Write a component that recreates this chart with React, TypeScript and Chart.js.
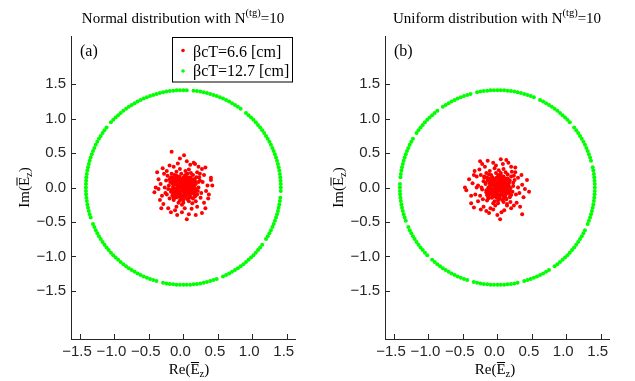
import React, { useEffect, useRef } from "react";
import { Chart, registerables } from "chart.js";

Chart.register(...registerables);

// ---------- data ----------
const xTicks = [-1.5, -1, -0.5, 0, 0.5, 1, 1.5];
const yTicks = [-1.5, -1, -0.5, 0, 0.5, 1, 1.5];
const xRange = [-1.63, 1.62];
const yRange = [-2.2, 2.2];

const legendLabels = ["βcT=6.6 [cm]", "βcT=12.7 [cm]"];
const titleMain = ["Normal distribution with N", "Uniform distribution with N"];
const titleSup = "(tg)";
const titleSuffix = "=10";
const panelLabels = ["(a)", "(b)"];

// green points: phase angles (degrees) on the ring of radius ringRadius
const ringRadius = 1.414;
const ringAnglesA = [
  0, 2, 4, 6, 8, 10, 12, 14, 16, 18, 20, 22, 24, 26, 28, 30, 32, 34, 36, 38, 40, 42, 44, 46, 48, 50, 54, 56,
  58, 60, 62, 64, 66, 68, 70, 72, 74, 76, 78, 80, 82, 84, 88, 90, 92, 94, 96, 98, 100, 102, 104, 106, 108,
  110, 112, 114, 116, 118, 120, 122, 124, 126, 128, 130, 132, 134, 136, 138, 142, 144, 146, 148, 150, 152,
  154, 156, 158, 160, 162, 164, 166, 168, 170, 172, 174, 176, 178, 180, 182, 184, 186, 188, 190, 192, 194,
  196, 198, 202, 204, 206, 208, 210, 212, 214, 216, 218, 220, 222, 224, 226, 228, 230, 232, 234, 236, 238,
  240, 242, 244, 246, 248, 250, 252, 254, 258, 260, 262, 264, 266, 268, 270, 272, 274, 276, 278, 280, 282,
  284, 286, 288, 290, 294, 296, 298, 300, 302, 304, 306, 308, 310, 312, 314, 316, 318, 320, 322, 324, 328,
  330, 332, 334, 336, 338, 340, 342, 344, 346, 348, 350, 352, 354, 358,
];
const ringAnglesB = [
  0, 2, 4, 6, 8, 10, 12, 16, 18, 20, 22, 24, 26, 28, 30, 32, 34, 36, 38, 42, 44, 46, 48, 50, 52, 54, 56, 58,
  60, 62, 64, 68, 70, 72, 74, 76, 78, 80, 82, 84, 86, 88, 90, 92, 94, 96, 98, 100, 102, 106, 108, 110, 112,
  114, 116, 118, 120, 122, 124, 128, 130, 132, 134, 136, 138, 140, 142, 144, 146, 150, 152, 154, 156, 158,
  160, 162, 164, 166, 168, 170, 172, 174, 178, 180, 182, 184, 186, 188, 190, 192, 194, 196, 198, 200, 204,
  206, 208, 210, 212, 214, 216, 218, 220, 222, 224, 228, 230, 232, 234, 236, 238, 240, 242, 244, 246, 248,
  250, 252, 256, 258, 260, 262, 264, 266, 268, 270, 272, 274, 276, 278, 280, 282, 286, 288, 290, 292, 294,
  296, 298, 300, 302, 306, 308, 310, 312, 314, 316, 318, 320, 322, 324, 326, 328, 330, 332, 334, 338, 340,
  342, 344, 346, 348, 350, 352, 354, 356, 358,
];

// red points (Re, Im)
const redA: [number, number][] = [
  [-0.17, 0.52], [0.01, 0.47], [-0.05, 0.42], [-0.38, 0.22], [0.27, 0.27], [0.32, 0.29], [-0.42, -0.07],
  [0.4, 0.14], [0.4, 0.11], [0.37, -0.1], [-0.09, -0.4], [0.05, -0.46], [0.27, -0.37], [0.08, -0.39],
  [-0.34, -0.18], [0.17, 0.34], [-0.3, 0.28], [-0.28, 0.2], [-0.33, 0.05], [-0.36, -0.02], [-0.31, -0.12],
  [-0.29, -0.24], [-0.22, -0.3], [-0.12, -0.33], [-0.02, -0.36], [0.12, -0.31], [0.2, -0.28], [0.3, -0.22],
  [0.33, -0.05], [0.35, 0.03], [0.3, 0.18], [0.22, 0.3], [0.1, 0.33], [-0.08, 0.35], [-0.2, 0.32],
  [-0.25, 0.1], [0.25, -0.15], [-0.26, -0.08], [0.28, 0.08], [0.15, 0.36], [-0.14, 0.3], [0.05, 0.38],
  [-0.36, 0.12], [0.36, -0.16], [-0.18, -0.36], [0.18, -0.4], [0.32, -0.3], [-0.4, 0.0], [0.42, 0.03],
  [0.24, 0.2], [-0.24, 0.24], [-0.1, -0.28], [0.02, -0.3], [-0.32, -0.3],
  [0.0, 0.0], [0.05, 0.02], [-0.04, 0.06], [0.08, -0.05], [-0.07, -0.03], [0.12, 0.08], [-0.11, 0.1],
  [0.03, -0.1], [-0.02, 0.13], [0.15, -0.02], [-0.15, 0.01], [0.1, 0.15], [-0.09, -0.14], [0.18, 0.05],
  [-0.18, -0.06], [0.06, 0.2], [-0.05, -0.19], [0.2, -0.1], [-0.2, 0.12], [0.14, -0.16], [-0.13, 0.18],
  [0.01, 0.07], [0.07, 0.11], [-0.03, -0.05], [0.09, 0.0], [-0.1, 0.04], [0.04, -0.15], [-0.06, 0.16],
  [0.16, 0.12], [-0.16, -0.12], [0.11, -0.09], [-0.12, -0.08], [0.02, 0.17], [0.22, 0.0], [-0.21, 0.03],
  [0.0, -0.22], [0.13, 0.03], [-0.08, 0.09], [0.05, -0.07], [-0.01, 0.03], [0.19, 0.15], [-0.17, 0.2],
  [0.08, -0.2], [-0.14, -0.18], [0.21, -0.05], [-0.22, -0.02], [0.03, 0.24], [-0.02, -0.25], [0.17, -0.13],
  [-0.19, 0.08], [0.11, 0.21], [-0.07, -0.22], [0.24, 0.1], [-0.24, -0.1], [0.06, 0.05], [-0.04, -0.1],
  [0.14, 0.18], [-0.11, 0.14], [0.09, -0.12], [-0.13, -0.03], [0.0, 0.11], [0.12, -0.01], [-0.06, 0.0],
  [0.03, 0.03], [-0.01, -0.02], [0.07, -0.02], [0.16, 0.02], [-0.16, 0.06], [0.04, 0.14], [-0.09, -0.07],
  [0.1, 0.06], [0.18, -0.2], [-0.03, 0.2], [0.23, 0.15], [-0.2, -0.16], [0.02, -0.13], [0.13, -0.23],
  [-0.1, 0.23], [0.2, 0.22], [-0.23, 0.17], [0.08, 0.26], [-0.05, 0.27], [0.26, -0.08], [-0.27, 0.0],
  [0.0, -0.18], [0.15, 0.09], [-0.08, 0.05], [0.05, 0.09], [-0.12, -0.15], [0.09, 0.04], [0.01, -0.06],
  [-0.03, 0.09], [0.11, -0.05], [-0.15, -0.08], [0.06, -0.17], [0.17, -0.06], [-0.18, 0.15], [0.22, 0.08],
  [0.04, 0.19], [-0.07, 0.12],
  [0.02, 0.05], [-0.03, 0.02], [0.06, -0.01], [-0.05, -0.06], [0.09, 0.09], [-0.08, 0.02], [0.04, -0.04],
  [-0.02, 0.09], [0.12, 0.04], [-0.12, 0.05], [0.07, 0.14], [-0.06, -0.12], [0.14, -0.08], [-0.14, -0.01],
  [0.01, -0.09], [0.1, -0.02], [-0.09, 0.12], [0.05, 0.12], [-0.04, -0.14], [0.13, 0.12], [-0.11, -0.11],
  [0.16, -0.1], [-0.15, 0.1], [0.03, 0.1], [-0.07, 0.07], [0.08, 0.03], [0.0, -0.04], [-0.01, 0.05],
  [0.11, -0.14], [-0.02, -0.16], [0.15, 0.05], [-0.17, -0.03], [0.07, -0.1], [-0.1, -0.01], [0.03, 0.16],
  [0.09, -0.07], [-0.13, 0.08], [0.12, 0.11], [-0.05, 0.1], [0.04, -0.02], [-0.08, -0.1], [0.17, 0.09],
  [-0.16, 0.14], [0.02, -0.12], [0.06, 0.07], [-0.03, -0.12], [0.1, 0.12], [-0.12, -0.05], [0.14, 0.0],
  [-0.06, 0.03], [0.0, 0.14], [0.08, -0.15], [-0.1, 0.17], [0.18, -0.02], [-0.14, -0.15], [0.05, 0.04],
  [-0.02, 0.0], [0.01, 0.12], [0.13, -0.05], [-0.09, -0.04],
];
const redB: [number, number][] = [
  [0.05, 0.41], [0.13, 0.4], [-0.25, 0.38], [-0.14, 0.39], [-0.47, 0.0], [-0.45, -0.04], [0.46, -0.06],
  [0.43, 0.11], [0.36, -0.39], [0.04, -0.46], [0.0, -0.4], [-0.12, -0.37], [-0.38, -0.23], [-0.34, -0.29],
  [0.26, 0.29], [0.35, 0.18], [-0.41, 0.12], [-0.33, 0.24], [-0.3, 0.16], [-0.36, 0.06], [-0.32, -0.1],
  [-0.28, -0.2], [-0.2, -0.28], [-0.06, -0.32], [0.1, -0.33], [0.2, -0.3], [0.28, -0.22], [0.32, -0.08],
  [0.36, 0.04], [0.3, 0.14], [0.2, 0.3], [0.08, 0.34], [-0.06, 0.36], [-0.18, 0.3], [-0.26, 0.26],
  [0.24, -0.26], [-0.38, -0.12], [0.38, -0.14], [-0.22, 0.34], [0.16, 0.36], [-0.3, 0.0], [0.3, 0.0],
  [-0.1, -0.3], [0.14, -0.26], [0.4, -0.02], [-0.16, -0.34], [0.26, 0.22], [-0.34, 0.18], [0.06, -0.36],
  [-0.02, 0.32], [0.33, -0.28], [-0.24, -0.32],
  [0.02, 0.01], [-0.05, 0.04], [0.07, -0.03], [-0.03, -0.07], [0.1, 0.06], [-0.09, 0.09], [0.04, -0.12],
  [-0.01, 0.14], [0.14, -0.04], [-0.13, -0.02], [0.09, 0.16], [-0.08, -0.15], [0.17, 0.07], [-0.17, 0.05],
  [0.05, 0.21], [-0.04, -0.2], [0.2, -0.11], [-0.19, 0.14], [0.13, -0.17], [-0.12, 0.19], [0.0, 0.06],
  [0.06, 0.1], [-0.02, -0.03], [0.11, 0.01], [-0.11, 0.02], [0.03, -0.16], [-0.07, 0.15], [0.15, 0.13],
  [-0.15, -0.11], [0.12, -0.1], [-0.1, -0.09], [0.01, 0.18], [0.23, 0.02], [-0.22, -0.03], [0.01, -0.23],
  [0.14, 0.04], [-0.07, 0.07], [0.06, -0.08], [0.0, 0.02], [0.2, 0.16], [-0.16, 0.21], [0.09, -0.21],
  [-0.15, -0.19], [0.22, -0.06], [-0.23, 0.0], [0.02, 0.25], [-0.03, -0.26], [0.18, -0.14], [-0.2, 0.09],
  [0.12, 0.22], [-0.06, -0.23], [0.25, 0.11], [-0.25, -0.12], [0.07, 0.04], [-0.05, -0.11], [0.15, 0.19],
  [-0.1, 0.13], [0.1, -0.13], [-0.14, -0.04], [0.01, 0.1], [0.13, -0.02], [-0.05, -0.01], [0.04, 0.02],
  [0.08, -0.01], [0.17, 0.01], [-0.17, 0.07], [0.05, 0.15], [-0.08, -0.06], [0.11, 0.07], [0.19, -0.21],
  [-0.02, 0.21], [0.24, 0.17], [-0.21, -0.17], [0.03, -0.14], [0.14, -0.24], [-0.11, 0.24], [0.21, 0.23],
  [-0.24, 0.18], [0.09, 0.27], [-0.04, 0.28], [0.27, -0.1], [-0.28, 0.03], [0.01, -0.19], [0.16, 0.1],
  [-0.09, 0.03], [0.04, 0.08], [-0.13, -0.14], [0.1, 0.03], [0.02, -0.05], [-0.04, 0.11], [0.12, -0.06],
  [-0.16, -0.07], [0.07, -0.18], [0.18, -0.05], [-0.19, 0.16], [0.23, 0.07], [0.05, 0.18], [-0.06, 0.13],
  [0.08, 0.12], [-0.01, -0.09],
  [0.03, 0.04], [-0.02, 0.01], [0.07, 0.0], [-0.06, -0.05], [0.08, 0.1], [-0.09, 0.03], [0.05, -0.05],
  [-0.03, 0.08], [0.13, 0.05], [-0.11, 0.06], [0.06, 0.13], [-0.07, -0.11], [0.15, -0.07], [-0.13, 0.0],
  [0.0, -0.1], [0.11, -0.03], [-0.1, 0.11], [0.04, 0.11], [-0.05, -0.13], [0.12, 0.13], [-0.12, -0.1],
  [0.17, -0.09], [-0.14, 0.11], [0.02, 0.11], [-0.06, 0.08], [0.09, 0.02], [0.01, -0.03], [-0.02, 0.06],
  [0.12, -0.15], [-0.01, -0.15], [0.16, 0.04], [-0.16, -0.04], [0.08, -0.11], [-0.11, 0.0], [0.04, 0.17],
  [0.1, -0.06], [-0.12, 0.09], [0.13, 0.1], [-0.04, 0.09], [0.05, -0.01], [-0.09, -0.09], [0.18, 0.1],
  [-0.15, 0.15], [0.03, -0.11], [0.07, 0.06], [-0.02, -0.11], [0.11, 0.11], [-0.13, -0.06], [0.15, 0.01],
  [-0.07, 0.04], [0.01, 0.15], [0.09, -0.16], [-0.09, 0.18], [0.19, -0.01], [-0.13, -0.16], [0.06, 0.03],
  [-0.01, 0.01], [0.02, 0.13], [0.14, -0.04], [-0.08, -0.03],
];

// ---------- styles ----------
const RED = "#ff0000";
const GREEN = "#00ff00";
const AXIS_COLOR = "#262626";
const SERIF = '"Liberation Serif", "Times New Roman", serif';
const SANS = '"Liberation Sans", Arial, sans-serif';
const CANVAS_W = 314;
const CANVAS_H = 381;

const fmtTick = (v: number) => {
  const s = Number(v).toFixed(1);
  return s.startsWith("-") ? "\u2212" + s.slice(1) : s;
};

// draws "<prefix>(Ē_z)" with overline and subscript, centred on cx at baseline by
function drawELabel(ctx: CanvasRenderingContext2D, prefix: string, cx: number, by: number) {
  const main = `15px ${SERIF}`;
  const sub = `10.5px ${SERIF}`;
  ctx.font = main;
  const wPre = ctx.measureText(prefix + "(").width;
  const wE = ctx.measureText("E").width;
  const wClose = ctx.measureText(")").width;
  ctx.font = sub;
  const wZ = ctx.measureText("z").width;
  const total = wPre + wE + wZ + wClose;
  let x = cx - total / 2;
  ctx.textAlign = "left";
  ctx.textBaseline = "alphabetic";
  ctx.font = main;
  ctx.fillText(prefix + "(", x, by);
  x += wPre;
  ctx.fillText("E", x, by);
  ctx.fillRect(x + 0.5, by - 12, wE - 1, 1);
  x += wE;
  ctx.font = sub;
  ctx.fillText("z", x, by + 3);
  x += wZ;
  ctx.font = main;
  ctx.fillText(")", x, by);
}

const decorPlugin = {
  id: "decor",
  afterDraw(chart: any, _args: any, opts: any) {
    const ctx: CanvasRenderingContext2D = chart.ctx;
    const { left, right, bottom } = chart.chartArea;
    const xs = chart.scales.x;
    const ys = chart.scales.y;
    ctx.save();
    // inward tick marks
    ctx.strokeStyle = AXIS_COLOR;
    ctx.lineWidth = 1;
    ctx.beginPath();
    xTicks.forEach((v) => {
      const px = Math.round(xs.getPixelForValue(v)) + 0.5;
      ctx.moveTo(px, bottom);
      ctx.lineTo(px, bottom - 5);
    });
    yTicks.forEach((v) => {
      const py = Math.round(ys.getPixelForValue(v)) + 0.5;
      ctx.moveTo(left, py);
      ctx.lineTo(left + 5, py);
    });
    ctx.stroke();

    ctx.fillStyle = "#000";
    // title with superscript
    const cx = (left + right) / 2;
    ctx.font = `15px ${SERIF}`;
    const w1 = ctx.measureText(opts.title).width;
    const w3 = ctx.measureText(titleSuffix).width;
    ctx.font = `10.5px ${SERIF}`;
    const w2 = ctx.measureText(titleSup).width;
    let tx = cx - (w1 + w2 + w3) / 2;
    ctx.textAlign = "left";
    ctx.textBaseline = "alphabetic";
    ctx.font = `15px ${SERIF}`;
    ctx.fillText(opts.title, tx, 23);
    tx += w1;
    ctx.font = `10.5px ${SERIF}`;
    ctx.fillText(titleSup, tx, 16);
    tx += w2;
    ctx.font = `15px ${SERIF}`;
    ctx.fillText(titleSuffix, tx, 23);

    // panel label
    ctx.font = `16px ${SERIF}`;
    ctx.fillText(opts.panel, left + 9, 56);

    // axis labels
    drawELabel(ctx, "Re", opts.xLabelCx, 374);
    ctx.save();
    ctx.translate(28.5, 187.5);
    ctx.rotate(-Math.PI / 2);
    drawELabel(ctx, "Im", 0, 0);
    ctx.restore();

    // legend
    if (opts.legend) {
      const bx = 172.5, by = 37.5, bw = 120, bh = 44.5;
      ctx.fillStyle = "#fff";
      ctx.fillRect(bx, by, bw, bh);
      ctx.strokeStyle = "#000";
      ctx.lineWidth = 1;
      ctx.strokeRect(bx, by, bw, bh);
      const rows = [
        { color: RED, text: legendLabels[0], dy: 50.5, ty: 56.5 },
        { color: GREEN, text: legendLabels[1], dy: 71, ty: 76 },
      ];
      ctx.font = `16px ${SERIF}`;
      rows.forEach((r) => {
        ctx.fillStyle = r.color;
        ctx.beginPath();
        ctx.arc(183, r.dy, 1.8, 0, Math.PI * 2);
        ctx.fill();
        ctx.fillStyle = "#000";
        ctx.fillText(r.text, 193, r.ty);
      });
    }
    ctx.restore();
  },
};

function makeConfig(red: [number, number][], ring: number[], idx: number, xLabelCx: number): any {
  return {
    type: "scatter",
    data: {
      datasets: [
        {
          label: legendLabels[0],
          data: red.map(([x, y]) => ({ x, y })),
          pointRadius: 2,
          pointBorderWidth: 0,
          pointBackgroundColor: RED,
          backgroundColor: RED,
          borderColor: RED,
        },
        {
          label: legendLabels[1],
          data: ring.map((a) => ({
            x: ringRadius * Math.cos((a * Math.PI) / 180),
            y: ringRadius * Math.sin((a * Math.PI) / 180),
          })),
          pointRadius: 2,
          pointBorderWidth: 0,
          pointBackgroundColor: GREEN,
          backgroundColor: GREEN,
          borderColor: GREEN,
        },
      ],
    },
    options: {
      responsive: false,
      animation: false,
      events: [],
      layout: { padding: { top: 36, right: CANVAS_W - 295, bottom: 0, left: 0 } },
      plugins: {
        legend: { display: false },
        tooltip: { enabled: false },
        title: { display: false },
        decor: {
          title: titleMain[idx],
          panel: panelLabels[idx],
          legend: idx === 0,
          xLabelCx,
        },
      },
      scales: {
        x: {
          type: "linear",
          min: xRange[0],
          max: xRange[1],
          afterBuildTicks: (s: any) => {
            s.ticks = xTicks.map((v) => ({ value: v }));
          },
          afterFit: (s: any) => {
            s.height = CANVAS_H - 339;
          },
          grid: { display: false, drawTicks: false },
          border: { display: true, color: AXIS_COLOR, width: 1 },
          ticks: {
            autoSkip: false,
            maxRotation: 0,
            padding: 4,
            labelOffset: -3,
            color: AXIS_COLOR,
            font: { family: SANS, size: 15 },
            callback: (v: any) => fmtTick(v),
          },
        },
        y: {
          type: "linear",
          min: yRange[0],
          max: yRange[1],
          afterBuildTicks: (s: any) => {
            s.ticks = yTicks.map((v) => ({ value: v }));
          },
          afterFit: (s: any) => {
            s.width = 71;
          },
          grid: { display: false, drawTicks: false },
          border: { display: true, color: AXIS_COLOR, width: 1 },
          ticks: {
            autoSkip: false,
            padding: 5,
            color: AXIS_COLOR,
            font: { family: SANS, size: 15 },
            callback: (v: any) => fmtTick(v),
          },
        },
      },
    },
    plugins: [decorPlugin],
  };
}

function Panel({ red, ring, idx, left, xLabelCx }: any) {
  const ref = useRef<HTMLCanvasElement>(null);
  useEffect(() => {
    if (!ref.current) return;
    const chart = new Chart(ref.current, makeConfig(red, ring, idx, xLabelCx));
    return () => chart.destroy();
  }, []);
  return (
    <canvas
      ref={ref}
      width={CANVAS_W}
      height={CANVAS_H}
      style={{ position: "absolute", left, top: 0, width: CANVAS_W, height: CANVAS_H }}
    />
  );
}

export default function App() {
  return (
    <div style={{ position: "absolute", left: 0, top: 0, width: 635, height: 381, background: "#fff" }}>
      <Panel red={redA} ring={ringAnglesA} idx={0} left={0} xLabelCx={189} />
      <Panel red={redB} ring={ringAnglesB} idx={1} left={314} xLabelCx={181} />
    </div>
  );
}
